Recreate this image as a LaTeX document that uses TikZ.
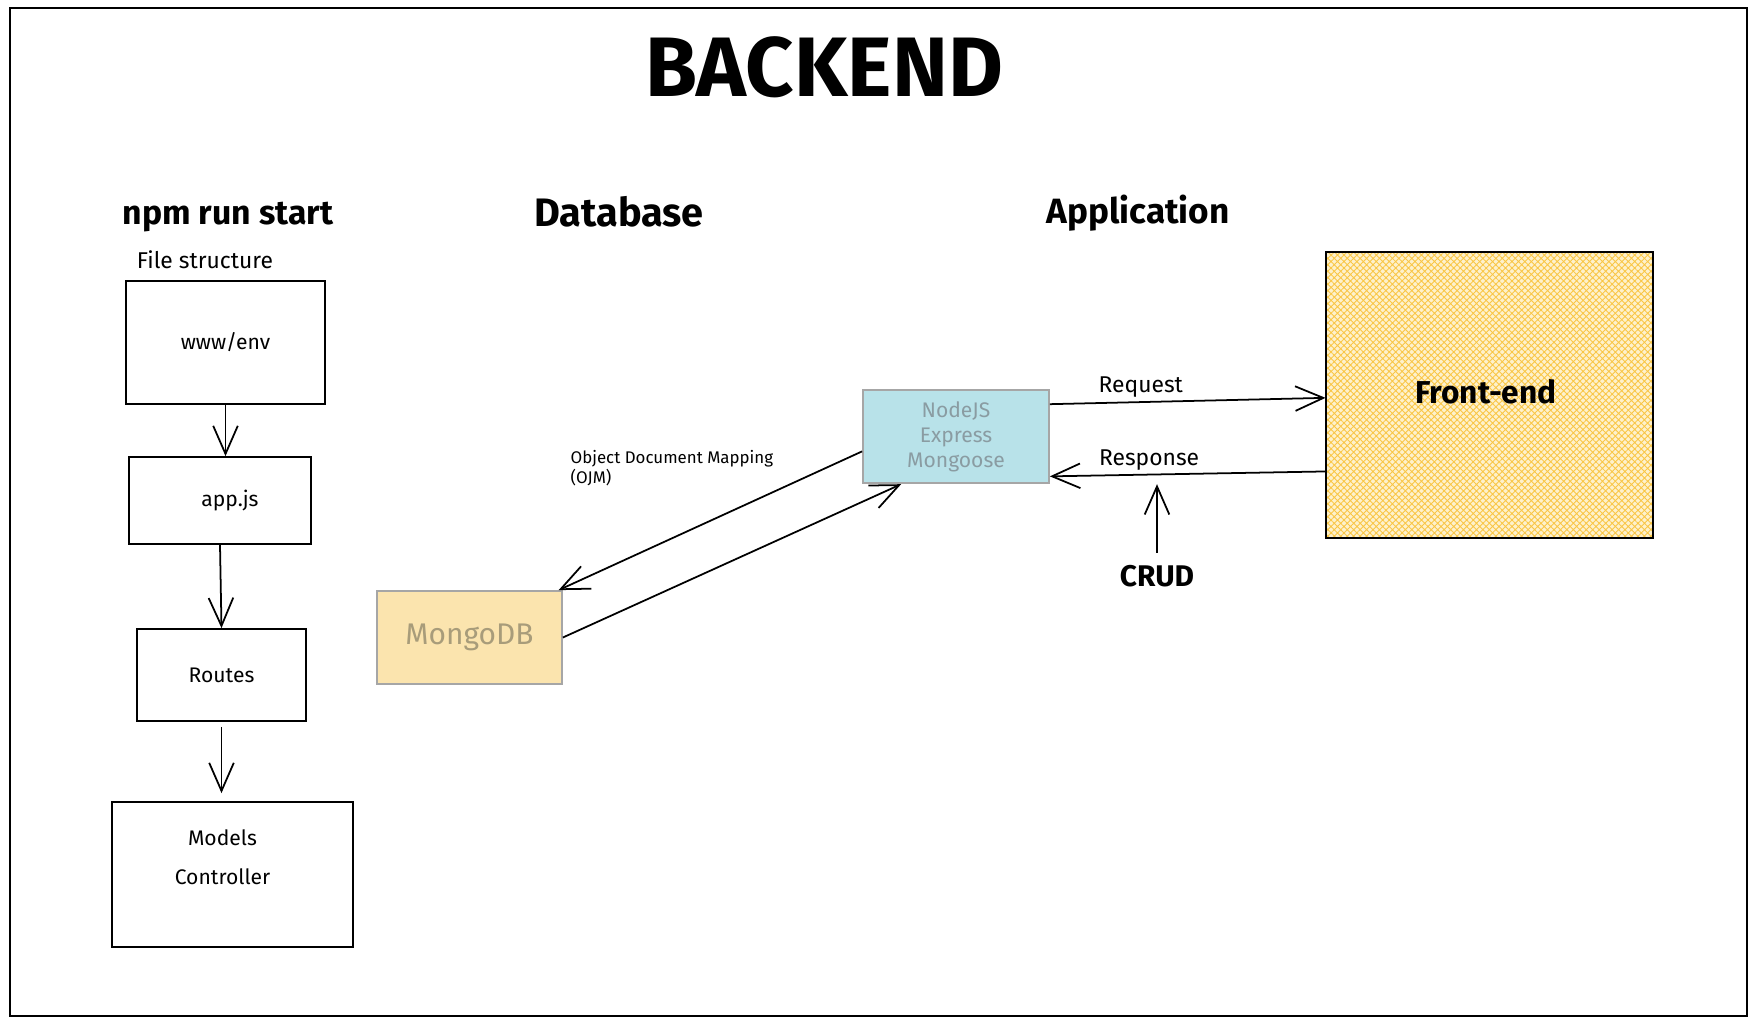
\documentclass[tikz,border=0pt]{standalone}
\usepackage{fontspec}
\setmainfont{Fira Sans}
\usepackage{tikz}
\usetikzlibrary{arrows.meta,patterns.meta}

\definecolor{mongofill}{HTML}{FBE4AE}
\definecolor{mongotext}{HTML}{A89C7A}
\definecolor{nodefill}{HTML}{B8E2E9}
\definecolor{nodetext}{HTML}{8A9CA2}
\definecolor{frontfill}{HTML}{FEF1CC}
\definecolor{fronthatch}{HTML}{F9C646}

\begin{document}
\begin{tikzpicture}[>={Straight Barb[length=8pt,width=7pt]}, line width=0.5pt,
  filebox/.style={draw, rectangle, font=\fontsize{6}{8}\selectfont},
  head/.style={font=\fontsize{10}{12}\selectfont\bfseries}]
\useasboundingbox (0,0) rectangle (17.58,10.24);
\draw[line width=0.6pt] (0.10,0.08) rectangle (17.47,10.16);

\node[font=\fontsize{24}{28}\selectfont\bfseries] (title) at (8.24,9.57) {BACKEND};

% left column
\node[head, font=\fontsize{9.6}{12}\selectfont\bfseries] (npm) at (2.28,8.07) {npm run start};
\node[font=\fontsize{6.5}{8}\selectfont] (files) at (2.05,7.64) {File structure};
\node[filebox, minimum width=1.99cm, minimum height=1.23cm] (www) at (2.255,6.815) {www/env};
\node[filebox, minimum width=1.82cm, minimum height=0.87cm] (app) at (2.20,5.235) {\hspace{0.2cm}app.js};
\node[filebox, minimum width=1.69cm, minimum height=0.92cm] (routes) at (2.215,3.49) {Routes};
\node[filebox, minimum width=2.41cm, minimum height=1.45cm, align=center, text depth=0.35cm,
  font=\fontsize{6}{11}\selectfont] (models) at (2.325,1.495) {Models\hspace*{0.2cm}\\Controller\hspace*{0.2cm}};
\draw[->] (www.south) -- (www.south |- app.north);
\draw[->] (app.south) -- (routes.north);
\draw[->] ([yshift=-0.05cm]routes.south) -- ([yshift=0.08cm]routes.south |- models.north);

% database and application
\node[head, font=\fontsize{11.3}{13}\selectfont\bfseries] (db) at (6.19,8.12) {Database};
\node[head] (appl) at (11.38,8.11) {Application};
\node[draw=gray!70, fill=mongofill, text=mongotext, minimum width=1.85cm, minimum height=0.93cm,
  font=\fontsize{8.5}{10}\selectfont] (mongo) at (4.695,3.865) {MongoDB};
\node[draw=gray!70, fill=nodefill, text=nodetext, minimum width=1.86cm, minimum height=0.85cm,
  align=center, font=\fontsize{6}{7.1}\selectfont] (nodejs) at (9.56,5.875) {NodeJS\\Express\\Mongoose};
\node[draw, preaction={fill=frontfill},
  pattern={Hatch[angle=45,distance=1.3pt,line width=0.25pt]}, pattern color=fronthatch,
  minimum width=3.27cm, minimum height=2.86cm] (front) at (14.895,6.29) {};
\node[font=\fontsize{9}{11}\selectfont\bfseries] (frontlbl) at (14.86,6.32) {Front-end};
\node[anchor=west, align=left, font=\fontsize{4.8}{5.6}\selectfont] (ojm) at (5.58,5.56)
  {Object Document Mapping\\ (OJM)};
\node[font=\fontsize{8.5}{10}\selectfont\bfseries] (crud) at (11.57,4.48) {CRUD};

\draw[->] (nodejs.189) -- (mongo.28);
\draw[->] (mongo.east) -- (nodejs.221);
\draw[->] (nodejs.19) -- node[pos=0.33, above, inner sep=1pt, font=\fontsize{6.5}{8}\selectfont] {Request} (front.181);
\draw[->] (front.205) -- node[pos=0.64, above, inner sep=1pt, font=\fontsize{6.5}{8}\selectfont] {Response} (nodejs.-23);
\draw[->] (crud.north) -- (crud.north |- nodejs.south);
\end{tikzpicture}
\end{document}
